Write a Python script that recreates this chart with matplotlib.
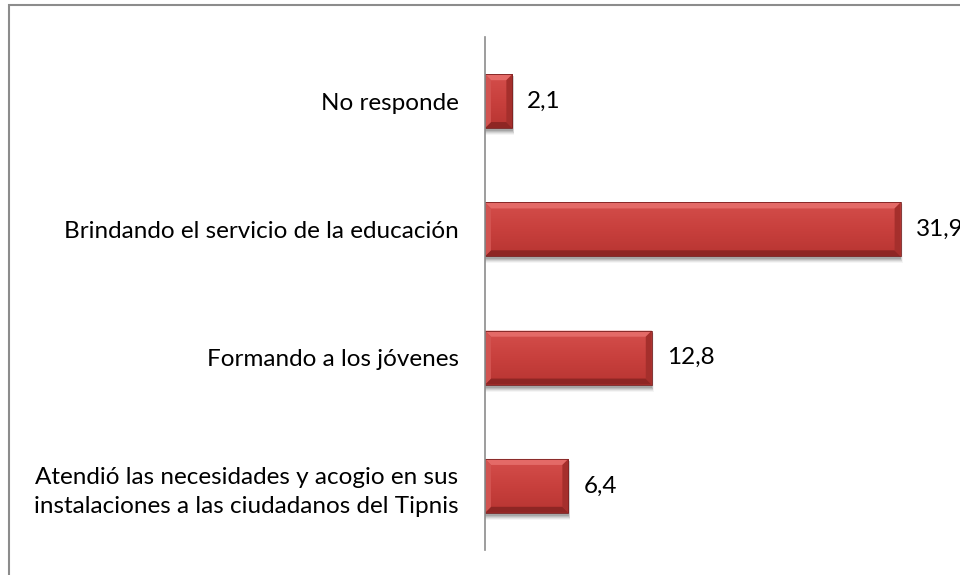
import numpy as np
import matplotlib.pyplot as plt
from matplotlib.patches import Polygon, Rectangle
from matplotlib.colors import LinearSegmentedColormap

# Data
categories = [
    "No responde",
    "Brindando el servicio de la educación",
    "Formando a los jóvenes",
    "Atendió las necesidades y acogio en sus\ninstalaciones a las ciudadanos del Tipnis",
]
values = [2.1, 31.9, 12.8, 6.4]
value_labels = ["2,1", "31,9", "12,8", "6,4"]

plt.rcParams["font.family"] = ["Lato", "DejaVu Sans"]

fig = plt.figure(figsize=(9.6, 5.75), dpi=100)
ax = fig.add_axes([485 / 960, 1 - 550 / 575, 456 / 960, 513 / 575])
ax.set_xlim(0, 35)
ax.set_ylim(len(categories) - 0.5, -0.5)

# outer chart border (only left and top visible)
fig.patches.append(Rectangle((9 / 960, -0.1), 1.2, 1 - 5 / 575 + 0.1,
                             transform=fig.transFigure, fill=False,
                             edgecolor="#8c8c8c", linewidth=1.5))

bar_h = 0.42
ypos = np.arange(len(categories))

# pixel -> data conversions for bevel and shadow sizes
px_x = 35 / 456
px_y = 4 / 513
bev = 6

face_cmap = LinearSegmentedColormap.from_list("face", ["#d44e4b", "#c8403d", "#b83532"])

for y, v, lab in zip(ypos, values, value_labels):
    top, bot = y - bar_h / 2, y + bar_h / 2
    # shadow
    for k, a in zip(range(5, 0, -1), [0.04, 0.06, 0.08, 0.1, 0.12]):
        ax.add_patch(Rectangle((0, top + 2 * px_y), v + k * 0.4 * px_x,
                               bar_h + k * px_y, facecolor="black", alpha=a,
                               linewidth=0, zorder=1))
    # main face gradient
    grad = np.linspace(0, 1, 64).reshape(-1, 1)
    ax.imshow(grad, cmap=face_cmap, aspect="auto", extent=(0, v, bot, top),
              zorder=2, interpolation="bilinear")
    bx, by = bev * px_x, bev * px_y
    bx = min(bx, v / 2)
    # bevels
    ax.add_patch(Polygon([(0, top), (v, top), (v - bx, top + by), (bx, top + by)],
                         closed=True, facecolor="#e46a67", linewidth=0, zorder=3))
    ax.add_patch(Polygon([(0, bot), (v, bot), (v - bx, bot - by), (bx, bot - by)],
                         closed=True, facecolor="#8e2624", linewidth=0, zorder=3))
    ax.add_patch(Polygon([(0, top), (bx, top + by), (bx, bot - by), (0, bot)],
                         closed=True, facecolor="#d25350", linewidth=0, zorder=3))
    ax.add_patch(Polygon([(v, top), (v - bx, top + by), (v - bx, bot - by), (v, bot)],
                         closed=True, facecolor="#a52f2c", linewidth=0, zorder=3))
    ax.add_patch(Rectangle((0, top), v, bar_h, fill=False, edgecolor="#7a2020",
                           linewidth=0.6, zorder=4))
    ax.text(v + 15 * px_x, y, lab, va="center", ha="left", fontsize=17.5,
            color="black")

ax.set_yticks(ypos)
ax.set_yticklabels(categories, fontsize=17.5, ha="right", multialignment="right",
                   linespacing=1.5)
ax.tick_params(axis="y", length=0, pad=19)
ax.set_xticks([])
for s in ["top", "right", "bottom"]:
    ax.spines[s].set_visible(False)
ax.spines["left"].set_color("#8c8c8c")
ax.spines["left"].set_linewidth(1.2)
ax.spines["left"].set_zorder(5)

fig.savefig("out.png", dpi=100)
